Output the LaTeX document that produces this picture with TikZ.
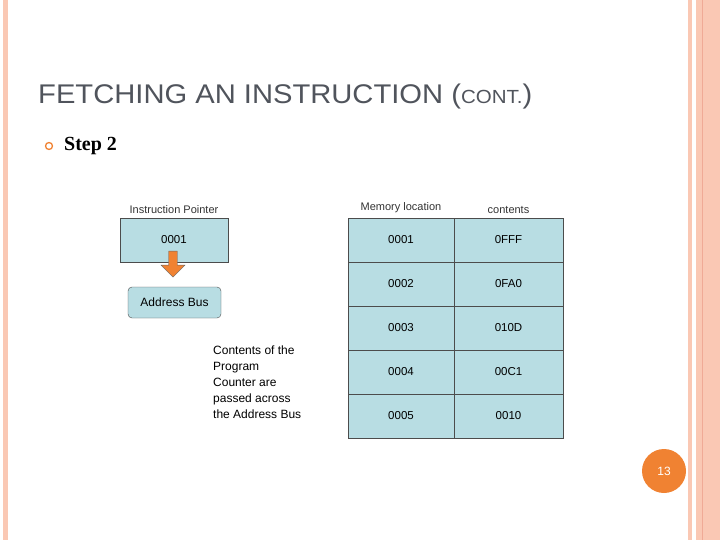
\documentclass[tikz,border=0pt]{standalone}
\usepackage{fontspec}
\setmainfont{Liberation Serif}
\setsansfont{Liberation Sans}
\usepackage{tikz}
\usetikzlibrary{positioning, shapes.arrows}
\definecolor{cellblue}{RGB}{184, 221, 227}
\definecolor{peach}{RGB}{250, 200, 180}
\definecolor{peachdark}{RGB}{240, 170, 150}
\definecolor{orange1}{RGB}{240, 130, 50}
\definecolor{titlegray}{RGB}{80, 84, 92}
\tikzset{
  cell/.style={draw=black!70, fill=cellblue, minimum width=106pt, minimum height=44pt, inner sep=0pt, font=\sffamily\fontsize{11.5}{13}\selectfont},
  hdr/.style={font=\sffamily\fontsize{11}{13}\selectfont, text=black!80},
}
\begin{document}
\begin{tikzpicture}[x=1pt, y=-1pt]
  \useasboundingbox (0,0) rectangle (720,540);
  % border stripes
  \fill[peach] (3,0) rectangle (8,540);
  \fill[peach] (688,0) rectangle (692,540);
  \fill[peach] (696,0) rectangle (720,540);
  \draw[peachdark] (702,0) -- (702,540);

  % Title
  \node[anchor=west, font=\sffamily\fontsize{27}{30}\selectfont, text=titlegray, inner sep=0pt, xscale=1.08] (title) at (38,97) {FETCHING AN INSTRUCTION (\fontsize{19}{21}\selectfont CONT.\fontsize{27}{30}\selectfont)};
  \draw[orange1, line width=1.3pt] (49,146) circle (3.5pt);
  \node[anchor=west, font=\bfseries\fontsize{20}{24}\selectfont, inner sep=0pt] (step) at (64,146) {Step 2};

  % Instruction pointer
  \node[cell, minimum width=108pt] (ip) at (174,240) {0001};
  \node[hdr, above=1pt of ip] (iplabel) {Instruction Pointer};
  \node[draw=black!70, fill=cellblue, rounded corners=4pt, minimum width=93pt, minimum height=31pt, font=\sffamily\fontsize{12}{14}\selectfont] (bus) at (174.5,302.5) {Address Bus};
  \node[single arrow, shape border rotate=270, fill=orange1, draw=black!60, minimum height=26pt, minimum width=24pt, single arrow head extend=4pt, inner sep=2pt] (arr) at (173,262) {};
  \node[anchor=north west, align=left, font=\sffamily\fontsize{12}{16}\selectfont, inner sep=0pt] (note) at (213,346) {Contents of the\\Program\\Counter are\\passed across\\the Address Bus};

  % Memory table
  \foreach \i/\loc/\val in {0/0001/0FFF, 1/0002/0FA0, 2/0003/010D, 3/0004/00C1, 4/0005/0010} {
    \node[cell] (loc\i) at (401,240+44*\i) {\loc};
    \node[cell, minimum width=109pt] (val\i) at (508.5,240+44*\i) {\val};
  }
  \node[hdr, above=1pt of loc0] (lochdr) {Memory location};
  \node[hdr, above=1pt of val0] (valhdr) {contents};

  % Page number
  \node[circle, fill=orange1, minimum size=44pt, text=white, font=\sffamily\fontsize{12}{14}\selectfont] (page) at (664,471) {13};
\end{tikzpicture}
\end{document}
